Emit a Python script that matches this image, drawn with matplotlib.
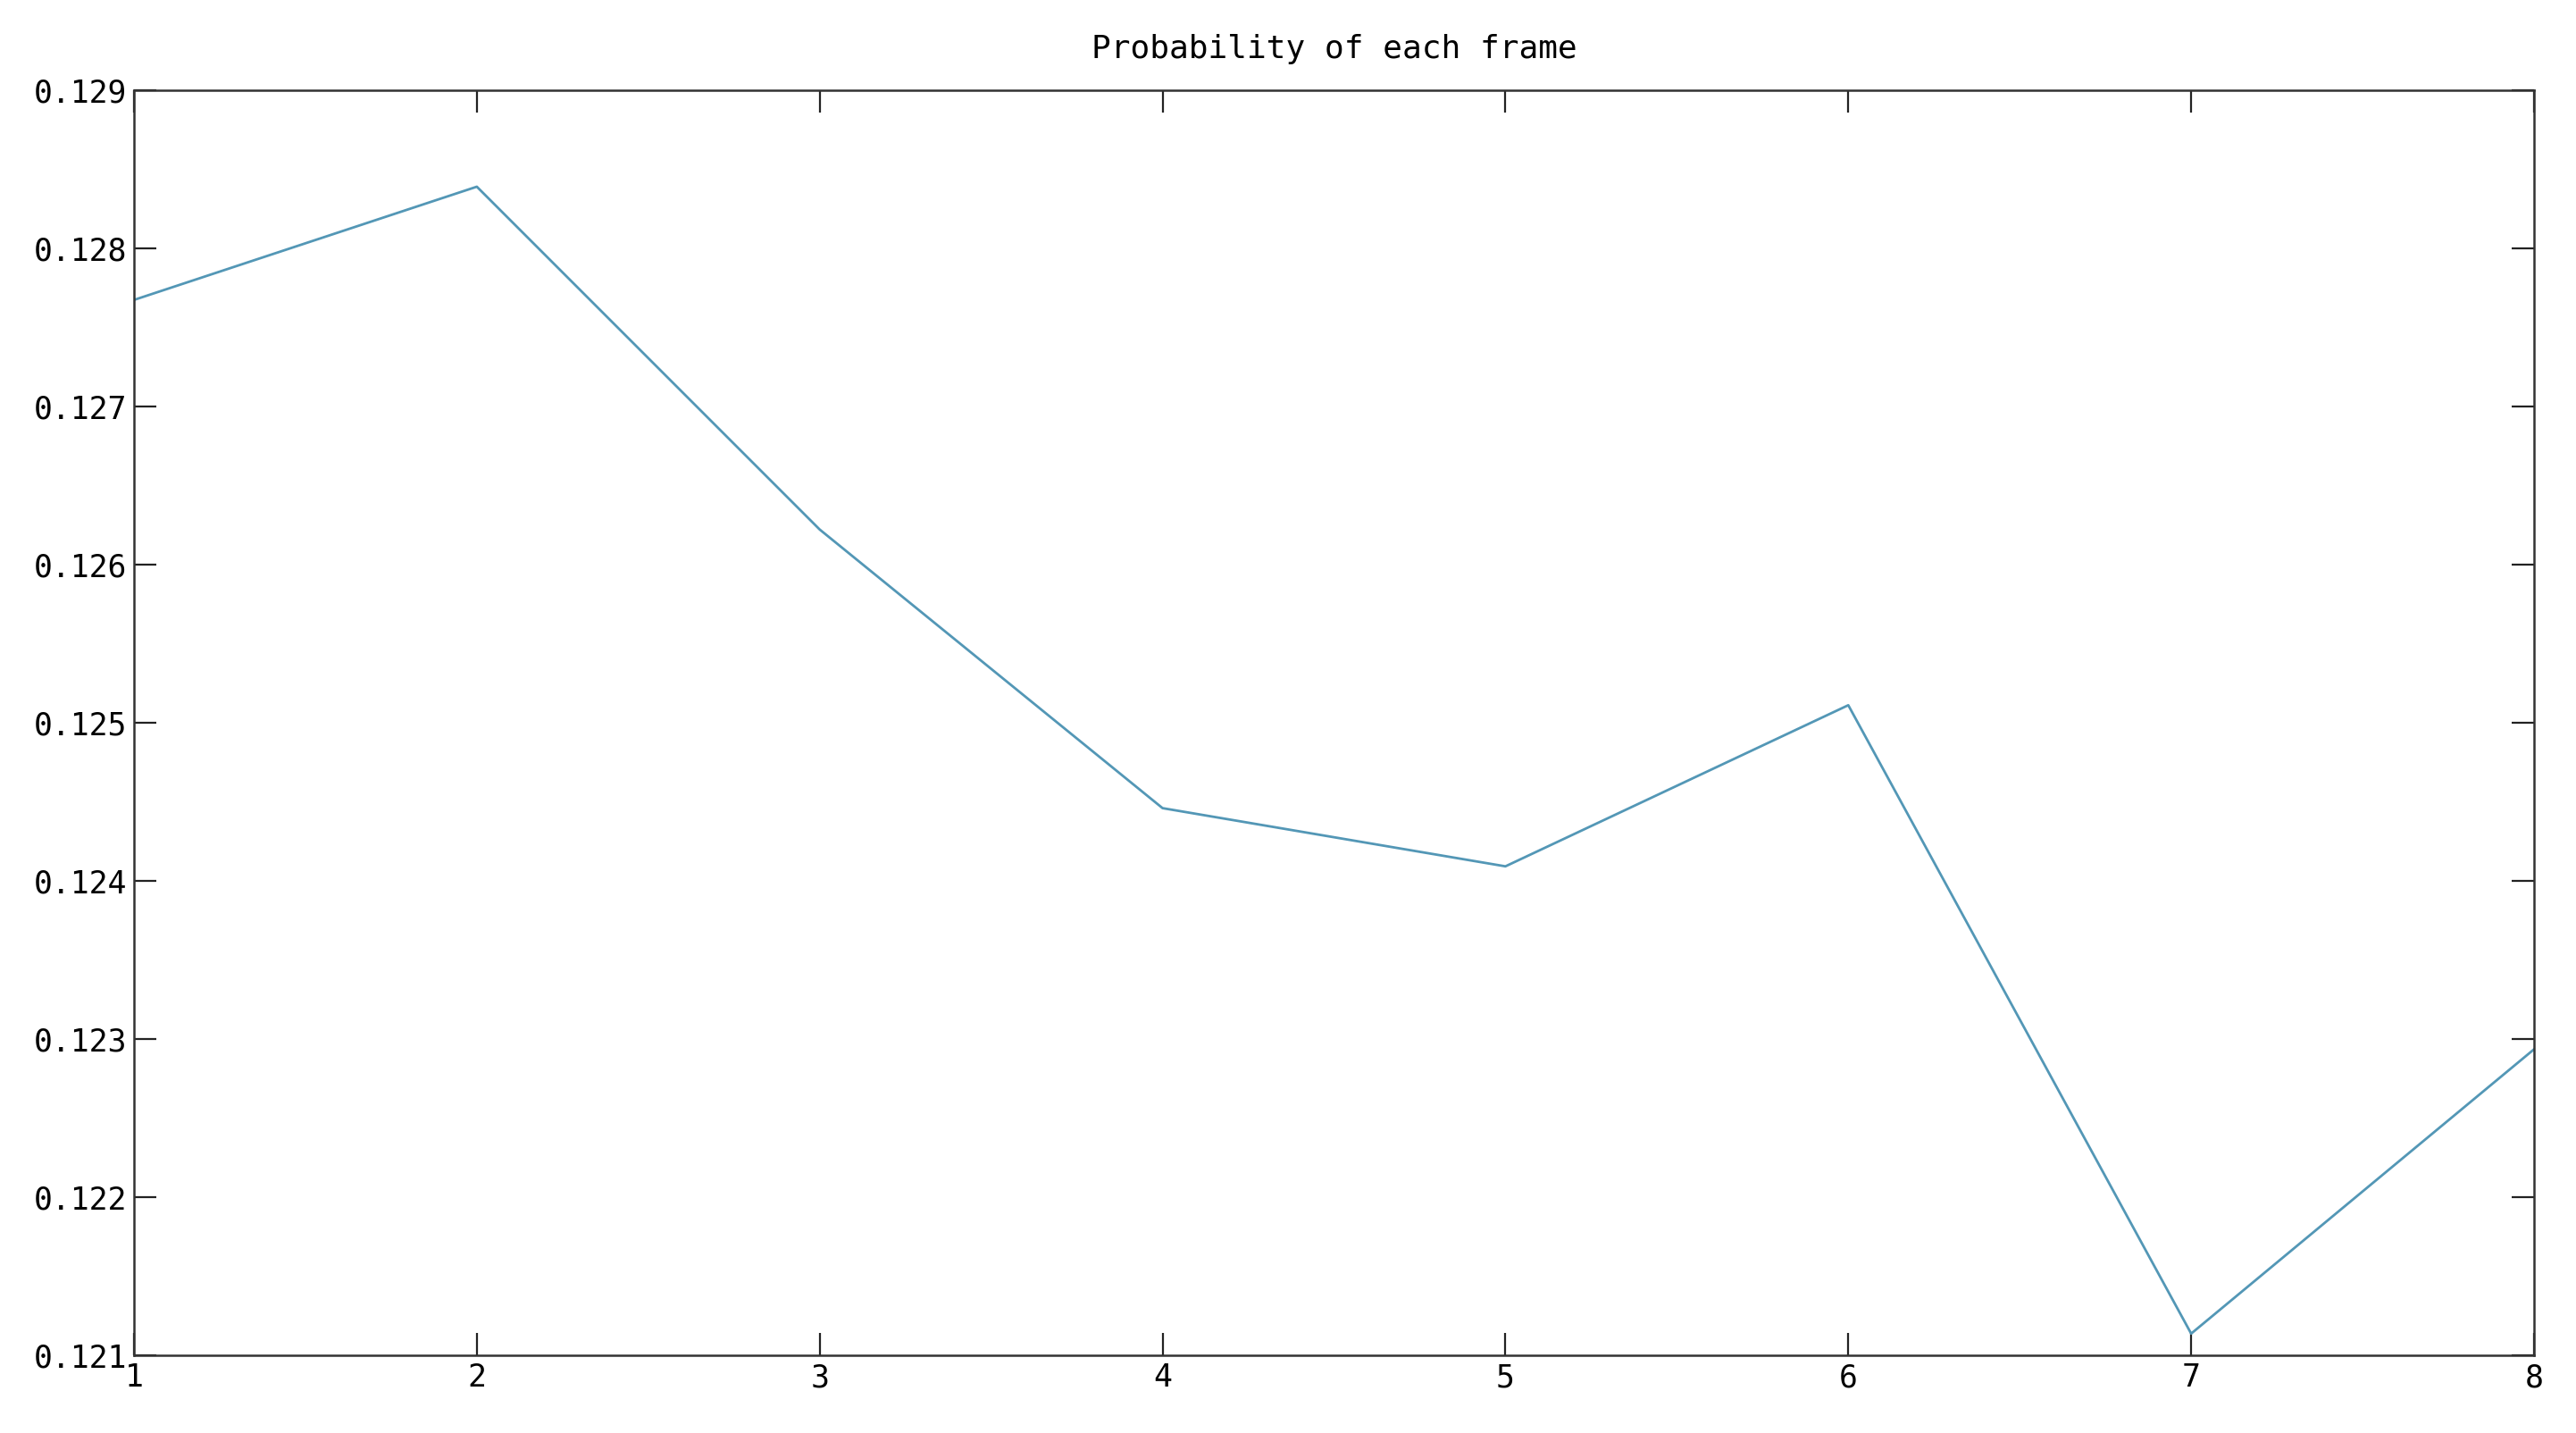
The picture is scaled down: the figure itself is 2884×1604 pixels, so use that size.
import matplotlib
matplotlib.use("Agg")
import matplotlib.pyplot as plt
import numpy as np

frames = [1, 2, 3, 4, 5, 6, 7, 8]
probability = [0.127674, 0.128390, 0.126222, 0.124460, 0.124092, 0.125111, 0.121137, 0.122935]
y_ticks = [0.121, 0.122, 0.123, 0.124, 0.125, 0.126, 0.127, 0.128, 0.129]
x_ticks = [1, 2, 3, 4, 5, 6, 7, 8]
title = "Probability of each frame"

plt.rcParams['font.family'] = ['DejaVu Sans Mono']

fig = plt.figure(figsize=(14.42, 8.02), dpi=200)
ax = fig.add_axes([150/2884, 1 - 1517/1604, (2837-150)/2884, (1517-101)/1604])

ax.plot(frames, probability, color='#5397b6', linewidth=1.0)

ax.set_xlim(1, 8)
ax.set_ylim(0.121, 0.129)
ax.set_xticks(x_ticks)
ax.set_xticklabels([str(v) for v in x_ticks])
ax.set_yticks(y_ticks)
ax.set_yticklabels(["%.3f" % v for v in y_ticks])

ax.tick_params(axis='both', direction='in', length=9, width=0.8, color='#222222',
               labelsize=12.5, top=True, right=True, labelcolor='#000000')
ax.tick_params(axis='x', pad=3)
ax.tick_params(axis='y', pad=3)

for s in ax.spines.values():
    s.set_color('#333333')
    s.set_linewidth(0.9)

ax.set_title(title, fontsize=13, pad=13, color='#000000')

fig.savefig("out.png", dpi=200, facecolor='white')
